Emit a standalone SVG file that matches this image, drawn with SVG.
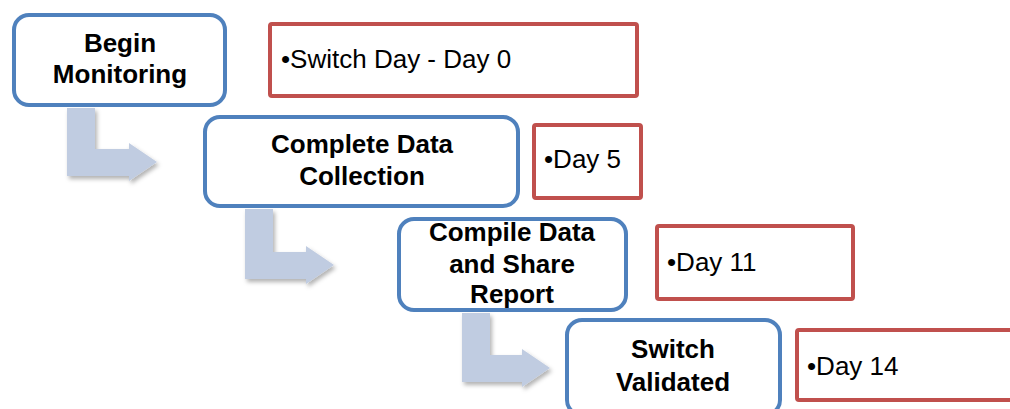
<svg xmlns="http://www.w3.org/2000/svg" width="1010" height="409" viewBox="0 0 1010 409">
<style>
.step{fill:#fff;stroke:#4F81BD;stroke-width:4}
.note{fill:#fff;stroke:#C0504D;stroke-width:4}
.st{font-family:"Liberation Sans",Arial,sans-serif;font-weight:bold;font-size:26px;fill:#000;text-anchor:middle}
.nt{font-family:"Liberation Sans",Arial,sans-serif;font-size:26px;fill:#000}
.arr{fill:#C0CCE1;filter:url(#sh)}
</style>
<defs>
<filter id="sh" x="-20%" y="-20%" width="150%" height="150%">
<feDropShadow dx="2" dy="3" stdDeviation="2" flood-color="#000" flood-opacity="0.3"/>
</filter>
</defs>
<g id="connectors">
<path class="arr" d="M67,108 H95 V149 H129 V143 L157,162 L129,181 V176 H67 Z"/>
<path class="arr" d="M245,209 H273 V252 H306 V246 L334,265 L306,284 V279 H245 Z"/>
<path class="arr" d="M462,313 H490 V355 H522 V349 L550,368 L522,387 V382 H462 Z"/>
</g>
<g id="node1">
<rect class="step" x="14" y="15" width="211" height="90" rx="15"/>
<text class="st" x="120" y="52">Begin</text>
<text class="st" x="120" y="83">Monitoring</text>
</g>
<g id="note1">
<rect class="note" x="270" y="24" width="367" height="72" rx="2"/>
<text class="nt" x="281" y="68">•Switch Day - Day 0</text>
</g>
<g id="node2">
<rect class="step" x="205" y="117" width="313" height="89" rx="15"/>
<text class="st" x="362" y="153">Complete Data</text>
<text class="st" x="362" y="185">Collection</text>
</g>
<g id="note2">
<rect class="note" x="534" y="125" width="107" height="73" rx="2"/>
<text class="nt" x="544" y="168">•Day 5</text>
</g>
<g id="node3">
<rect class="step" x="399" y="219" width="227" height="91" rx="15"/>
<text class="st" x="512" y="241">Compile Data</text>
<text class="st" x="512" y="273">and Share</text>
<text class="st" x="512" y="303">Report</text>
</g>
<g id="note3">
<rect class="note" x="657" y="226" width="196" height="73" rx="2"/>
<text class="nt" x="667" y="271">•Day 11</text>
</g>
<g id="node4">
<rect class="step" x="567" y="320" width="213" height="95" rx="15"/>
<text class="st" x="673" y="358">Switch</text>
<text class="st" x="673" y="391">Validated</text>
</g>
<g id="note4">
<rect class="note" x="797" y="330" width="225" height="70" rx="2"/>
<text class="nt" x="807" y="375">•Day 14</text>
</g>
</svg>
